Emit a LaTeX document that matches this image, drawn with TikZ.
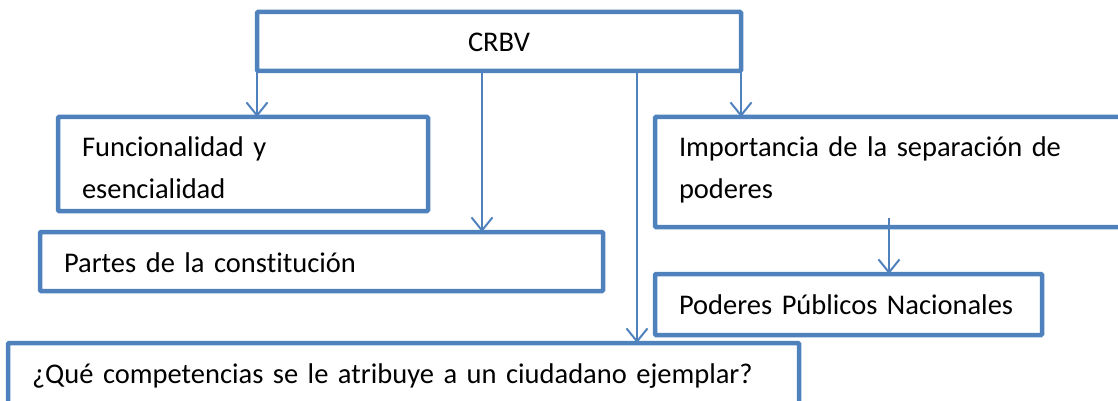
\documentclass[tikz,border=0pt]{standalone}
\usepackage{fontspec}
\setmainfont{Carlito}[Ligatures=NoCommon, WordSpace=0.7]
\usepackage{xcolor}
\definecolor{colorBox}{HTML}{4F81BD}
\usepackage{tikz}
\usetikzlibrary{arrows.meta, positioning}
\tikzset{box/.style={draw=colorBox, line width=4.5pt, rounded corners=1pt, outer sep=0pt,
  anchor=north west, align=left, inner xsep=24pt, inner ysep=19pt, text height=21pt,
  font=\fontsize{28.5}{41}\selectfont, execute at begin node={\hyphenpenalty=10000}}}

\begin{document}
\begin{tikzpicture}[x=1pt, y=-1pt, >={Straight Barb[length=13pt,width=21pt]},
  link/.style={->, colorBox, line width=2pt}]
\useasboundingbox (0,0) rectangle (1118,401);
\clip (0,0) rectangle (1118,401);
\node[box, align=center, text width=436pt, text depth=0pt] (crbv) at (257,12) {CRBV};
\node[box, text width=322pt, text depth=35pt] (func) at (58,117) {Funcionalidad y\\esencialidad};
\node[box, text width=515pt, text depth=0pt] (partes) at (40,232) {Partes de la constitución};
\node[box, text width=432pt, text depth=51pt] (imp) at (655,117) {Importancia de la separación de\\poderes};
\node[box, text width=339pt, text depth=2pt] (pod) at (655,274) {Poderes Públicos Nacionales};
\node[box, text width=743pt, text depth=20pt] (que) at (8,343) {¿Qué competencias se le atribuye a un ciudadano ejemplar?};
\coordinate (tapP) at (482,71);
\coordinate (tapQ) at (637,71);
\coordinate (tapI) at (889,218);
\draw[link] (crbv.south west) -- (crbv.south west |- func.north);
\draw[link] (tapP) -- (tapP |- partes.north);
\draw[link] (tapQ) -- (tapQ |- que.north);
\draw[link] (crbv.south east) -- (crbv.south east |- imp.north);
\draw[link] (tapI) -- (tapI |- pod.north);
\end{tikzpicture}
\end{document}
